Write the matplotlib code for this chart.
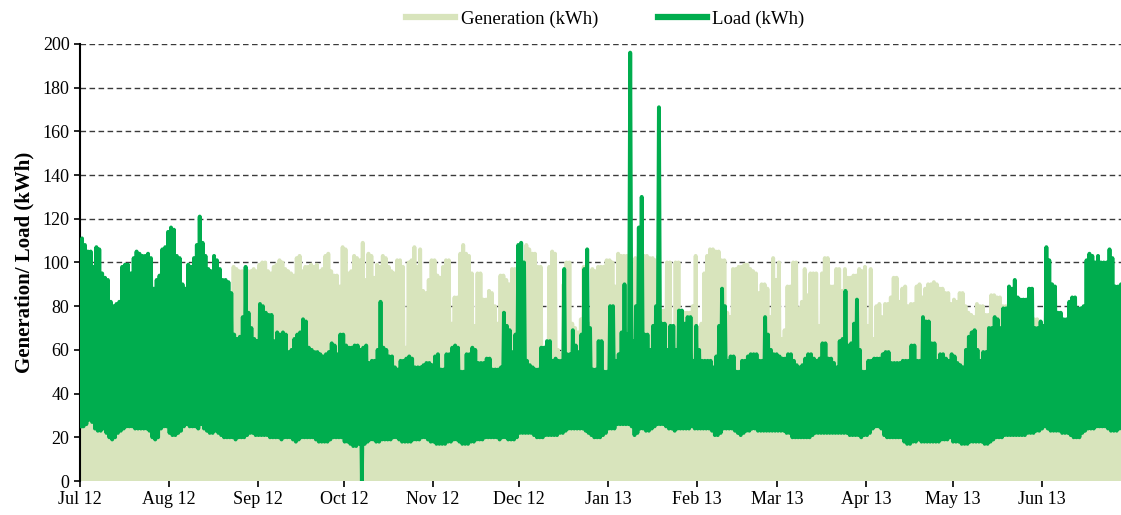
import numpy as np
import matplotlib
matplotlib.use("Agg")
import matplotlib.pyplot as plt
import matplotlib.dates as mdates
from matplotlib.lines import Line2D

plt.rcParams["font.family"] = ["Liberation Serif", "DejaVu Serif"]

start = np.datetime64("2012-07-01")

# daily peak load (kWh), one row per month Jul 12 .. Jun 13
load_max = [
    111, 108, 105, 105, 98, 107, 106, 95, 93, 92, 82, 80, 81, 82, 98, 99, 99, 95, 102, 105, 104, 103, 103, 104, 102, 88, 92, 94, 106, 107, 114,
    116, 115, 103, 102, 90, 88, 99, 98, 102, 108, 121, 109, 103, 97, 96, 103, 101, 97, 92, 92, 91, 86, 67, 65, 66, 75, 98, 77, 70, 65, 64,
    81, 80, 77, 76, 76, 64, 68, 67, 68, 67, 59, 60, 65, 67, 68, 74, 73, 61, 60, 59, 59, 58, 57, 58, 59, 63, 62, 58, 67, 67,
    62, 61, 61, 62, 62, 60, 61, 62, 54, 55, 55, 60, 82, 61, 60, 57, 57, 52, 51, 55, 55, 56, 57, 56, 52, 52, 52, 53, 54, 54, 53,
    57, 58, 51, 51, 58, 58, 61, 62, 61, 50, 50, 58, 58, 61, 60, 54, 54, 54, 56, 56, 51, 51, 51, 52, 77, 71, 69, 59, 67, 108,
    109, 100, 55, 53, 52, 51, 51, 61, 61, 64, 64, 55, 56, 55, 55, 97, 58, 58, 69, 62, 59, 67, 97, 106, 70, 51, 51, 64, 64, 50, 50,
    80, 80, 55, 58, 68, 90, 67, 196, 64, 80, 116, 130, 67, 67, 60, 71, 80, 171, 72, 72, 60, 71, 71, 60, 78, 78, 72, 75, 75, 55, 71,
    60, 55, 55, 55, 55, 52, 57, 71, 88, 80, 55, 57, 57, 50, 50, 55, 55, 57, 58, 58, 58, 55, 55, 75, 67, 60, 58, 58,
    57, 56, 56, 58, 58, 55, 53, 52, 53, 56, 58, 58, 56, 55, 56, 63, 63, 56, 56, 54, 52, 64, 65, 87, 62, 63, 72, 83, 60, 50, 50,
    55, 55, 56, 56, 56, 58, 59, 59, 54, 54, 54, 54, 55, 55, 55, 62, 62, 55, 55, 75, 73, 73, 63, 63, 55, 58, 58, 56, 55, 58,
    57, 54, 53, 52, 60, 66, 68, 69, 60, 55, 59, 59, 70, 70, 75, 74, 70, 79, 79, 89, 88, 92, 84, 83, 83, 83, 88, 88, 70, 70, 73,
    71, 107, 101, 90, 89, 77, 77, 74, 74, 82, 84, 84, 79, 79, 80, 101, 104, 103, 100, 103, 100, 100, 100, 106, 102, 89, 89, 90, 90, 90,
]

# daily minimum load (kWh)
load_min = [
    25, 25, 26, 28, 27, 24, 23, 23, 24, 22, 20, 19, 20, 22, 23, 24, 25, 25, 25, 24, 24, 24, 24, 24, 23, 20, 19, 20, 24, 25, 25,
    22, 21, 21, 22, 23, 25, 26, 25, 25, 25, 24, 26, 24, 23, 22, 22, 23, 22, 21, 20, 20, 20, 20, 19, 20, 20, 20, 21, 22, 22, 21,
    21, 21, 21, 21, 20, 20, 20, 20, 19, 20, 20, 20, 19, 18, 19, 20, 20, 20, 20, 20, 19, 18, 18, 18, 18, 19, 20, 20, 20, 20,
    18, 18, 17, 16, 16, 17, 0, 17, 18, 19, 19, 18, 18, 19, 19, 19, 19, 20, 20, 19, 18, 18, 18, 18, 19, 19, 19, 20, 20, 19, 18,
    18, 17, 17, 17, 17, 18, 18, 19, 19, 18, 17, 17, 17, 18, 18, 19, 19, 19, 20, 20, 20, 20, 20, 19, 20, 20, 19, 19, 19, 20,
    22, 22, 22, 22, 22, 21, 20, 20, 20, 21, 21, 21, 21, 21, 22, 22, 23, 24, 24, 24, 24, 24, 24, 23, 22, 21, 20, 20, 20, 21, 22,
    24, 24, 24, 26, 26, 26, 26, 26, 25, 21, 22, 24, 24, 23, 23, 24, 25, 26, 26, 26, 25, 24, 24, 23, 24, 24, 24, 24, 24, 25, 24,
    24, 24, 24, 24, 24, 23, 21, 21, 22, 24, 24, 24, 24, 23, 22, 21, 22, 23, 23, 24, 24, 23, 23, 23, 23, 23, 23, 23,
    23, 23, 23, 22, 22, 20, 20, 20, 20, 20, 20, 20, 21, 22, 22, 22, 22, 22, 22, 22, 22, 22, 22, 22, 22, 21, 21, 21, 21, 20, 21,
    21, 22, 24, 25, 25, 24, 21, 20, 20, 20, 20, 20, 20, 18, 17, 17, 18, 18, 19, 18, 18, 18, 18, 18, 18, 18, 19, 19, 19, 20,
    18, 18, 18, 17, 17, 17, 18, 18, 18, 18, 18, 17, 17, 18, 19, 20, 20, 20, 21, 21, 21, 21, 21, 21, 21, 21, 22, 22, 22, 23, 23,
    24, 25, 24, 23, 23, 23, 23, 22, 22, 22, 21, 20, 20, 20, 22, 23, 24, 24, 24, 25, 25, 25, 25, 24, 23, 23, 23, 24, 24, 24,
]

# daily peak generation (kWh), night generation is zero
gen_max = [
    85, 80, 78, 82, 75, 80, 84, 78, 76, 74, 70, 68, 72, 70, 80, 82, 84, 80, 82, 85, 84, 82, 80, 82, 80, 72, 75, 78, 84, 85, 86,
    88, 86, 84, 85, 80, 82, 86, 85, 88, 90, 92, 88, 86, 84, 85, 88, 86, 84, 82, 84, 85, 82, 98, 97, 96, 96, 95, 96, 96, 97, 96,
    99, 100, 100, 96, 95, 98, 99, 101, 100, 97, 96, 95, 94, 102, 103, 96, 98, 98, 99, 98, 99, 96, 97, 103, 104, 96, 94, 94, 89, 107,
    106, 95, 96, 103, 102, 101, 109, 92, 104, 103, 93, 99, 98, 103, 102, 98, 96, 95, 101, 101, 98, 61, 100, 101, 107, 98, 106, 87, 86, 92, 101,
    101, 94, 93, 98, 101, 101, 72, 84, 84, 104, 108, 104, 103, 95, 71, 95, 95, 83, 83, 87, 86, 80, 72, 94, 94, 92, 90, 97, 97, 97,
    90, 90, 108, 106, 104, 104, 98, 98, 60, 62, 98, 105, 104, 60, 58, 90, 100, 100, 72, 70, 68, 74, 98, 90, 72, 97, 96, 98, 98, 98, 101,
    101, 100, 89, 104, 103, 103, 103, 100, 40, 102, 102, 102, 103, 103, 102, 102, 101, 103, 78, 78, 100, 100, 70, 100, 100, 77, 77, 77, 77, 80, 103,
    70, 72, 95, 103, 106, 106, 105, 105, 101, 101, 77, 75, 97, 97, 98, 98, 99, 99, 97, 96, 95, 86, 90, 90, 88, 75, 102, 92,
    100, 65, 69, 89, 89, 100, 100, 79, 82, 97, 85, 95, 95, 95, 71, 95, 102, 102, 89, 89, 97, 97, 87, 97, 93, 93, 94, 94, 97, 96, 98,
    71, 97, 65, 80, 81, 75, 81, 81, 84, 93, 93, 82, 88, 89, 80, 81, 81, 89, 90, 84, 88, 90, 90, 91, 90, 88, 88, 86, 86, 81,
    83, 82, 86, 86, 80, 77, 76, 75, 81, 80, 80, 76, 76, 85, 85, 84, 84, 80, 80, 78, 78, 78, 76, 76, 76, 76, 75, 74, 74, 74, 72,
    70, 70, 70, 70, 70, 70, 70, 70, 70, 70, 70, 70, 70, 70, 70, 70, 70, 70, 70, 70, 70, 70, 70, 70, 70, 70, 70, 70, 70, 70,
]

load_color = "#00ad4e"
gen_color = "#d8e4bc"

n = len(load_max)
day0 = mdates.date2num(start)
days = np.arange(n) + day0

# night low then daytime peak for each day
gen_t = np.column_stack([days, days + 0.5]).ravel()
gen_v = np.column_stack([np.zeros(n), gen_max]).ravel()
load_t = np.column_stack([days + 0.2, days + 0.7]).ravel()
load_v = np.column_stack([load_min, load_max]).ravel()

fig = plt.figure(figsize=(11.21, 5.15), dpi=100)
ax = fig.add_axes([0.0714, 0.066, 0.9286, 0.8488])

ax.plot(gen_t, gen_v, color=gen_color, lw=2.8, solid_joinstyle="round", zorder=2)
ax.plot(load_t, load_v, color=load_color, lw=2.8, solid_joinstyle="round", zorder=3)

ax.set_ylim(0, 200)
ax.set_yticks(range(0, 201, 20))
ax.set_xlim(day0, day0 + 362.7)
ax.xaxis.set_major_locator(mdates.MonthLocator())
ax.xaxis.set_major_formatter(mdates.DateFormatter("%b %y"))

ax.yaxis.grid(True, linestyle=(0, (4, 2.5)), color="#3a3a3a", lw=1)
ax.set_axisbelow(True)
for s in ["top", "right", "bottom"]:
    ax.spines[s].set_visible(False)
ax.spines["left"].set_linewidth(1.5)
ax.tick_params(axis="both", labelsize=13, direction="out", length=4, width=1.2)

ax.set_ylabel("Generation/ Load (kWh)", fontsize=15, fontweight="bold", labelpad=6)

handles = [Line2D([], [], color=gen_color, lw=4.5),
           Line2D([], [], color=load_color, lw=4.5)]
fig.legend(handles, ["Generation (kWh)", "Load (kWh)"], loc="center",
           bbox_to_anchor=(0.54, 0.963), ncol=2, frameon=False, fontsize=13.5,
           handlelength=2.6, handletextpad=0.3, columnspacing=3.2)

fig.savefig("out.png", dpi=100)
